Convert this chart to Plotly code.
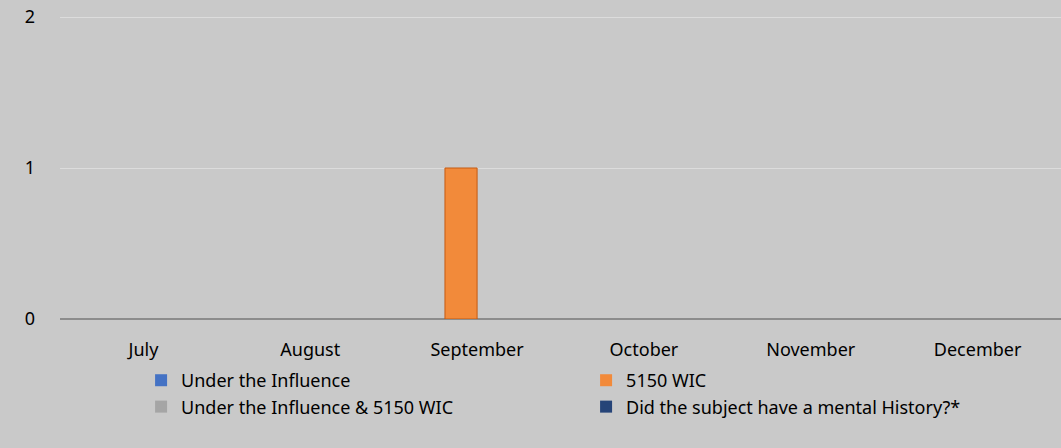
import plotly.graph_objects as go

months = ["July", "August", "September", "October", "November", "December"]
under_influence = [0, 0, 0, 0, 0, 0]
wic_5150 = [0, 0, 1, 0, 0, 0]
under_influence_and_5150 = [0, 0, 0, 0, 0, 0]
mental_history = [0, 0, 0, 0, 0, 0]

series = [
    ("Under the Influence", under_influence, "#4472C4", "#2F5597"),
    ("5150 WIC", wic_5150, "#F28A3A", "#C55A11"),
    ("Under the Influence & 5150 WIC", under_influence_and_5150, "#A5A5A5", "#7F7F7F"),
    ("Did the subject have a mental History?*", mental_history, "#264478", "#1F3864"),
]

fig = go.Figure()
for name, vals, col, edge in series:
    fig.add_trace(go.Bar(x=months, y=vals, name=name,
                         marker=dict(color=col,
                                     line=dict(color=edge, width=[1 if v else 0 for v in vals]))))

font = "Noto Sans, Open Sans, sans-serif"
fig.update_layout(
    width=1061, height=448,
    paper_bgcolor="#C9C9C9", plot_bgcolor="#C9C9C9",
    margin=dict(l=60, r=0, t=16, b=129, autoexpand=False),
    barmode="group", bargap=0.23, bargroupgap=0,
    font=dict(family=font, size=18, color="#000000"),
    showlegend=True,
    legend=dict(orientation="h", x=0.081, xanchor="left", y=-0.142, yanchor="top",
                entrywidth=400, entrywidthmode="pixels",
                font=dict(family=font, size=18, color="#000000"),
                itemwidth=30, tracegroupgap=0, bgcolor="rgba(0,0,0,0)"),
)
fig.update_xaxes(showgrid=False, showline=False, ticks="", tickfont=dict(size=18),
                 ticklabelstandoff=18, automargin=False)
fig.update_yaxes(range=[0, 2.0067], tickvals=[0, 1, 2], showgrid=True, gridcolor="#DCDCDC",
                 gridwidth=1, zeroline=True, zerolinecolor="#8C8C8C", zerolinewidth=2,
                 ticks="", ticklabelstandoff=24, tickfont=dict(size=18), automargin=False,
                 ticklabeloverflow="allow")
fig.write_html("out.html", config={"displayModeBar": False},
               post_script="document.body.style.margin='0';"
                           "document.body.style.background='#C9C9C9';")
